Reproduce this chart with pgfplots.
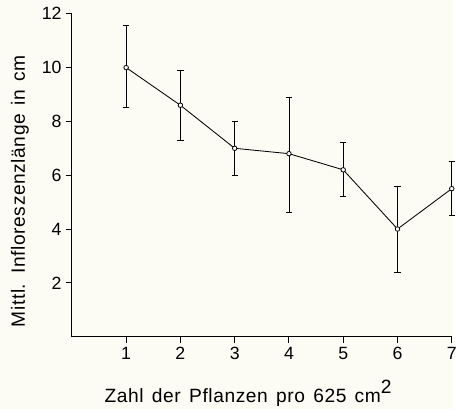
\documentclass[border=0pt]{standalone}
\usepackage{fontspec}
\setmainfont{Liberation Sans}[LetterSpace=3,WordSpace=1.4]
\newfontfamily\tickfam{Liberation Sans}
\usepackage{pgfplots}
\pgfplotsset{compat=1.18}
\usetikzlibrary{backgrounds}
\definecolor{paper}{RGB}{252,251,244}
\newcommand{\tl}[1]{\mbox{\tickfam\fontsize{18}{21}\selectfont #1}}
\begin{document}
\begin{tikzpicture}
\begin{axis}[
  name=ax,
  scale only axis,
  width=386pt, height=328pt,
  xmin=0, xmax=7, ymin=0, ymax=12,
  axis lines=left,
  axis line style={-, line width=1pt},
  xtick={1,2,3,4,5,6,7},
  ytick={2,4,6,8,10,12},
  xticklabels={\tl{1},\tl{2},\tl{3},\tl{4},\tl{5},\tl{6},\tl{7}},
  yticklabels={\tl{2},\tl{4},\tl{6},\tl{8},\tl{10},\tl{12}},
  tick align=outside,
  major tick length=6pt,
  tick style={line width=1pt, black},
  xticklabel style={yshift=-1pt},
  yticklabel style={xshift=-1pt},
  label style={font=\fontsize{19.5}{23}\selectfont},
  xlabel={Zahl der Pflanzen pro 625 cm\raisebox{9pt}{2}},
  ylabel={Mittl. Infloreszenzlänge in cm},
  xlabel style={at={(axis description cs:0.464,-0.204)}, anchor=base},
  ylabel style={at={(axis description cs:-0.137,0.45)}, anchor=center},
  clip=false,
]
\addplot[black, line width=0.85pt, mark=*, mark size=2.3pt,
  mark options={fill=white, line width=0.8pt},
  error bars/.cd, y dir=both, y explicit,
  error bar style={line width=0.9pt},
  error mark options={rotate=90, mark size=3.2pt, line width=0.9pt}]
table[x=x, y=y, y error plus=ep, y error minus=em] {
x y ep em
1 10.0 1.55 1.5
2 8.6 1.3 1.3
3 7.0 1.0 1.0
4 6.8 2.1 2.2
5 6.2 1.0 1.0
6 4.0 1.6 1.6
7 5.5 1.0 1.0
};
\end{axis}
\begin{scope}[on background layer]
\fill[paper] ([shift={(-73pt,-74pt)}]ax.south west) rectangle ([shift={(1pt,14pt)}]ax.north east);
\end{scope}
\path[use as bounding box] ([shift={(-73pt,-74pt)}]ax.south west) rectangle ([shift={(1pt,14pt)}]ax.north east);
\end{tikzpicture}
\end{document}
